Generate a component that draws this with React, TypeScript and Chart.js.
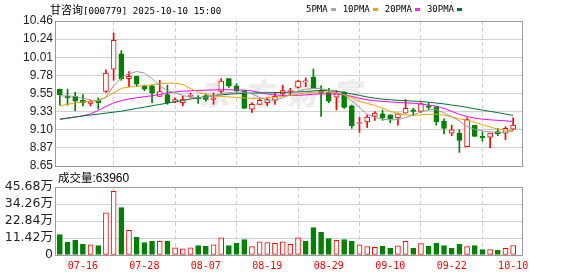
import React, { useEffect, useRef } from 'react';
import { Chart, registerables } from 'chart.js';

Chart.register(...registerables);

// ---------- data ----------
const stockName = '甘咨询';
const stockCode = '[000779]';
const quoteTime = '2025-10-10 15:00';
const volumeLabel = '成交量';
const lastVolume = 63960;
const watermark = '东方财富';

const dates = [
  '07-11', '07-14', '07-15', '07-16', '07-17', '07-18', '07-21', '07-22', '07-23', '07-24',
  '07-25', '07-28', '07-29', '07-30', '07-31', '08-01', '08-04', '08-05', '08-06', '08-07',
  '08-08', '08-11', '08-12', '08-13', '08-14', '08-15', '08-18', '08-19', '08-20', '08-21',
  '08-22', '08-25', '08-26', '08-27', '08-28', '08-29', '09-01', '09-02', '09-03', '09-04',
  '09-05', '09-08', '09-09', '09-10', '09-11', '09-12', '09-15', '09-16', '09-17', '09-18',
  '09-19', '09-22', '09-23', '09-24', '09-25', '09-26', '09-29', '09-30', '10-09', '10-10',
];

const openP = [
  9.61, 9.52, 9.52, 9.47, 9.43, 9.47, 9.58, 9.86, 10.05, 9.74,
  9.77, 9.65, 9.65, 9.52, 9.54, 9.45, 9.44, 9.52, 9.51, 9.53,
  9.48, 9.58, 9.74, 9.65, 9.59, 9.36, 9.42, 9.44, 9.47, 9.55,
  9.58, 9.63, 9.70, 9.76, 9.59, 9.57, 9.51, 9.57, 9.40, 9.18,
  9.20, 9.27, 9.30, 9.29, 9.25, 9.31, 9.35, 9.33, 9.40, 9.39,
  9.21, 9.06, 9.06, 8.89, 9.16, 9.02, 9.01, 9.08, 9.06, 9.11,
];
const highP = [
  9.61, 9.61, 9.57, 9.54, 9.47, 9.50, 9.85, 10.31, 10.09, 9.83,
  9.77, 9.66, 9.66, 9.72, 9.66, 9.50, 9.52, 9.56, 9.53, 9.55,
  9.56, 9.74, 9.74, 9.68, 9.59, 9.44, 9.50, 9.50, 9.56, 9.66,
  9.62, 9.72, 9.75, 9.86, 9.65, 9.62, 9.59, 9.58, 9.41, 9.26,
  9.29, 9.33, 9.35, 9.29, 9.31, 9.48, 9.37, 9.44, 9.44, 9.39,
  9.24, 9.16, 9.10, 9.25, 9.16, 9.08, 9.06, 9.12, 9.14, 9.25,
];
const lowP = [
  9.41, 9.41, 9.34, 9.40, 9.40, 9.36, 9.57, 9.72, 9.72, 9.64,
  9.64, 9.59, 9.44, 9.52, 9.42, 9.44, 9.40, 9.50, 9.43, 9.46,
  9.42, 9.56, 9.63, 9.57, 9.37, 9.32, 9.42, 9.40, 9.42, 9.53,
  9.53, 9.62, 9.64, 9.62, 9.27, 9.44, 9.35, 9.37, 9.12, 9.07,
  9.13, 9.22, 9.22, 9.19, 9.16, 9.31, 9.28, 9.32, 9.35, 9.16,
  9.05, 9.03, 8.82, 8.89, 9.02, 8.96, 8.88, 9.03, 8.98, 9.10,
];
const closeP = [
  9.54, 9.50, 9.46, 9.44, 9.45, 9.44, 9.81, 10.22, 9.74, 9.77,
  9.67, 9.61, 9.56, 9.58, 9.44, 9.48, 9.48, 9.53, 9.49, 9.48,
  9.50, 9.71, 9.65, 9.59, 9.37, 9.42, 9.47, 9.48, 9.52, 9.59,
  9.59, 9.71, 9.70, 9.62, 9.56, 9.46, 9.56, 9.38, 9.15, 9.19,
  9.26, 9.31, 9.25, 9.24, 9.30, 9.37, 9.33, 9.43, 9.38, 9.20,
  9.12, 9.10, 8.97, 9.23, 9.02, 9.00, 9.06, 9.05, 9.12, 9.16,
];
const volume = [
  138000, 86000, 98000, 71000, 69000, 64000, 283000, 427000, 318000, 165000,
  118000, 84000, 91000, 91000, 91000, 49000, 42000, 49000, 64000, 58000,
  69000, 116000, 64000, 78000, 104000, 56000, 89000, 84000, 78000, 89000,
  71000, 116000, 93000, 185000, 153000, 111000, 98000, 104000, 91000, 69000,
  56000, 51000, 58000, 44000, 62000, 91000, 44000, 76000, 58000, 78000,
  64000, 44000, 71000, 56000, 64000, 37000, 37000, 31000, 44000, 63960,
];
const ma5 = [
  9.525, 9.525, 9.518, 9.494, 9.475, 9.459, 9.512, 9.649, 9.749, 9.805,
  9.829, 9.811, 9.742, 9.649, 9.593, 9.562, 9.531, 9.510, 9.500, 9.510,
  9.525, 9.550, 9.566, 9.574, 9.568, 9.550, 9.506, 9.469, 9.475, 9.500,
  9.550, 9.587, 9.606, 9.618, 9.618, 9.593, 9.568, 9.537, 9.463, 9.382,
  9.295, 9.257, 9.232, 9.226, 9.229, 9.254, 9.288, 9.326, 9.353, 9.357,
  9.313, 9.263, 9.214, 9.142, 9.108, 9.089, 9.074, 9.071, 9.074, 9.081,
];
const ma10 = [
  9.400, 9.419, 9.438, 9.450, 9.456, 9.471, 9.506, 9.562, 9.620, 9.634,
  9.643, 9.652, 9.664, 9.676, 9.683, 9.684, 9.668, 9.618, 9.574, 9.543,
  9.525, 9.518, 9.512, 9.506, 9.500, 9.494, 9.494, 9.500, 9.510, 9.518,
  9.531, 9.546, 9.562, 9.571, 9.574, 9.574, 9.562, 9.543, 9.500, 9.456,
  9.431, 9.406, 9.372, 9.332, 9.307, 9.288, 9.282, 9.288, 9.295, 9.297,
  9.285, 9.263, 9.239, 9.222, 9.195, 9.166, 9.137, 9.110, 9.098, 9.093,
];
const ma20 = [
  9.236, 9.249, 9.261, 9.276, 9.301, 9.344, 9.394, 9.438, 9.465, 9.487,
  9.502, 9.515, 9.527, 9.543, 9.562, 9.574, 9.584, 9.589, 9.593, 9.597,
  9.599, 9.602, 9.602, 9.599, 9.596, 9.587, 9.568, 9.550, 9.537, 9.531,
  9.531, 9.533, 9.537, 9.546, 9.550, 9.550, 9.547, 9.540, 9.518, 9.494,
  9.477, 9.465, 9.456, 9.450, 9.444, 9.438, 9.434, 9.423, 9.410, 9.397,
  9.369, 9.332, 9.295, 9.267, 9.247, 9.235, 9.226, 9.220, 9.214, 9.205,
];
const ma30 = [
  9.232, 9.246, 9.261, 9.275, 9.286, 9.298, 9.310, 9.322, 9.334, 9.351,
  9.368, 9.384, 9.402, 9.418, 9.435, 9.451, 9.469, 9.485, 9.502, 9.515,
  9.527, 9.538, 9.546, 9.552, 9.557, 9.560, 9.562, 9.564, 9.567, 9.569,
  9.572, 9.574, 9.579, 9.587, 9.593, 9.593, 9.584, 9.568, 9.550, 9.531,
  9.512, 9.496, 9.485, 9.477, 9.470, 9.465, 9.460, 9.455, 9.446, 9.436,
  9.425, 9.411, 9.398, 9.382, 9.364, 9.347, 9.332, 9.316, 9.298, 9.280,
];

const xTickDates = ['07-16', '07-28', '08-07', '08-19', '08-29', '09-10', '09-22', '10-10'];
const priceTickLabels = ['8.65', '8.87', '9.10', '9.33', '9.55', '9.78', '10.01', '10.24', '10.46'];
const volTickLabels = ['0', '11.42万', '22.84万', '34.26万', '45.68万'];
const volMax = 456800;

const legendItems = [
  { label: '5PMA', color: '#a8a8a8' },
  { label: '10PMA', color: '#f0a30a' },
  { label: '20PMA', color: '#ff22ff' },
  { label: '30PMA', color: '#00703a' },
];

// ---------- styles ----------
const UP = '#ff0000';
const DOWN = '#008000';
const GRID = '#d0d0d0';
const FRAME = '#9a9a9a';
const MA_COLORS = ['#9a9a9a', '#f0a000', '#ff00ff', '#006f36'];
const X_MIN = -0.5;
const X_MAX = 60.15;
const AXIS_W = 56;

const framePlugin = {
  id: 'frame',
  beforeDatasetsDraw(chart: any) {
    const { ctx, chartArea: a } = chart;
    ctx.save();
    ctx.strokeStyle = FRAME;
    ctx.lineWidth = 1;
    const l = Math.round(a.left) - 0.5;
    const t = Math.round(a.top) + 0.5;
    const r = Math.round(a.right) + 0.5;
    const b = Math.round(a.bottom) + 0.5;
    ctx.strokeRect(l, t, r - l, b - t);
    ctx.restore();
  },
};

function xScale(showLabels: boolean, h: number) {
  const tickIdx = xTickDates.map((d) => dates.indexOf(d));
  return {
    type: 'linear',
    min: X_MIN,
    max: X_MAX,
    offset: false,
    afterBuildTicks: (s: any) => {
      s.ticks = tickIdx.map((v) => ({ value: v }));
    },
    afterFit: (s: any) => {
      s.height = h;
    },
    grid: { color: GRID, lineWidth: 1, drawTicks: false },
    border: { display: false, dash: [4, 3] },
    ticks: {
      display: showLabels,
      autoSkip: false,
      maxRotation: 0,
      minRotation: 0,
      padding: 5,
      color: '#ff0000',
      font: { family: "'DejaVu Sans Mono', monospace", size: 10 },
      callback: (v: any) => dates[v] ?? '',
    },
  };
}

export default function App() {
  const priceRef = useRef<HTMLCanvasElement>(null);
  const volRef = useRef<HTMLCanvasElement>(null);

  useEffect(() => {
    const candleUp = dates.map((_, i) => closeP[i] >= openP[i]);
    const volUp = dates.map((_, i) =>
      i === 0 ? closeP[i] >= openP[i] : closeP[i] >= closeP[i - 1]
    );
    const pMin = parseFloat(priceTickLabels[0]);
    const pMax = parseFloat(priceTickLabels[priceTickLabels.length - 1]);
    const pStep = (pMax - pMin) / (priceTickLabels.length - 1);
    const priceTickValues = priceTickLabels.map((_, k) => pMin + k * pStep);
    const vStep = volMax / (volTickLabels.length - 1);
    const volTickValues = volTickLabels.map((_, k) => k * vStep);

    const lineDs = (label: string, data: number[], color: string, order: number) => ({
      type: 'line',
      label,
      data: data.map((v, i) => ({ x: i, y: v })),
      borderColor: color,
      borderWidth: 1,
      pointRadius: 0,
      tension: 0,
      fill: false,
      order,
    });

    const priceChart = new Chart(priceRef.current as HTMLCanvasElement, {
      type: 'bar',
      data: {
        datasets: [
          lineDs('5PMA', ma5, MA_COLORS[0], -5),
          lineDs('10PMA', ma10, MA_COLORS[1], -4),
          lineDs('30PMA', ma30, MA_COLORS[3], -3),
          lineDs('20PMA', ma20, MA_COLORS[2], -2),
          {
            type: 'bar',
            label: 'body',
            data: dates.map((_, i) => ({ x: i, y: [openP[i], closeP[i]] })),
            backgroundColor: candleUp.map((u) => (u ? '#ffffff' : DOWN)),
            borderColor: candleUp.map((u) => (u ? UP : DOWN)),
            borderWidth: 1,
            borderSkipped: false,
            barThickness: 5,
            minBarLength: 1,
            grouped: false,
            order: 0,
          },
          {
            type: 'bar',
            label: 'wick',
            data: dates.map((_, i) => ({ x: i, y: [lowP[i], highP[i]] })),
            backgroundColor: candleUp.map((u) => (u ? UP : DOWN)),
            borderWidth: 0,
            barThickness: 1,
            grouped: false,
            order: 1,
          },
        ] as any,
      },
      options: {
        responsive: false,
        maintainAspectRatio: false,
        animation: false,
        events: [],
        layout: { padding: { left: 0, right: 578 - 522, top: 21, bottom: 276 - 166 } },
        plugins: { legend: { display: false }, tooltip: { enabled: false } },
        scales: {
          x: xScale(false, 0) as any,
          y: {
            type: 'linear',
            position: 'left',
            min: pMin,
            max: pMax,
            afterBuildTicks: (s: any) => {
              s.ticks = priceTickValues.map((v) => ({ value: v }));
            },
            afterFit: (s: any) => {
              s.width = AXIS_W;
            },
            grid: { color: GRID, lineWidth: 1, drawTicks: false },
            border: { display: false },
            ticks: {
              autoSkip: false,
              padding: 3,
              color: '#222',
              font: { family: "'Liberation Sans', Arial, sans-serif", size: 12 },
              callback: (_v: any, i: number) => priceTickLabels[i],
            },
          },
        },
      },
      plugins: [framePlugin],
    } as any);

    const volChart = new Chart(volRef.current as HTMLCanvasElement, {
      type: 'bar',
      data: {
        datasets: [
          {
            label: 'volume',
            data: volume.map((v, i) => ({ x: i, y: v })),
            backgroundColor: volUp.map((u) => (u ? '#ffffff' : DOWN)),
            borderColor: volUp.map((u) => (u ? UP : DOWN)),
            borderWidth: 1,
            borderSkipped: false,
            barThickness: 5,
            grouped: false,
          },
        ] as any,
      },
      options: {
        responsive: false,
        maintainAspectRatio: false,
        animation: false,
        events: [],
        layout: { padding: { left: 0, right: 578 - 522, top: 187, bottom: 0 } },
        plugins: { legend: { display: false }, tooltip: { enabled: false } },
        scales: {
          x: xScale(true, 276 - 255) as any,
          y: {
            type: 'linear',
            position: 'left',
            min: 0,
            max: volMax,
            afterBuildTicks: (s: any) => {
              s.ticks = volTickValues.map((v) => ({ value: v }));
            },
            afterFit: (s: any) => {
              s.width = AXIS_W;
            },
            grid: { color: GRID, lineWidth: 1, drawTicks: false },
            border: { display: false },
            ticks: {
              autoSkip: false,
              padding: 3,
              color: '#222',
              font: { family: "'DejaVu Sans', 'Noto Sans CJK SC', sans-serif", size: 12.5 },
              callback: (_v: any, i: number) => volTickLabels[i],
            },
          },
        },
      },
      plugins: [framePlugin],
    } as any);

    return () => {
      priceChart.destroy();
      volChart.destroy();
    };
  }, []);

  const mono = "'DejaVu Sans Mono', monospace";
  const cjk = "'Noto Sans CJK SC', sans-serif";

  return (
    <div
      style={{
        position: 'absolute',
        left: 0,
        top: 0,
        width: 578,
        height: 276,
        background: '#ffffff',
        overflow: 'hidden',
      }}
    >
      <div
        style={{
          position: 'absolute',
          left: 197,
          top: 70,
          width: 180,
          textAlign: 'center',
          fontFamily: cjk,
          fontWeight: 900,
          fontStyle: 'italic',
          fontSize: 30,
          letterSpacing: 14,
          color: '#ececec',
          whiteSpace: 'nowrap',
        }}
      >
        {watermark}
      </div>
      <canvas ref={priceRef} width={578} height={276} style={{ position: 'absolute', left: 0, top: 0 }} />
      <canvas ref={volRef} width={578} height={276} style={{ position: 'absolute', left: 0, top: 0 }} />
      <div
        style={{
          position: 'absolute',
          left: 50,
          top: 1,
          height: 16,
          lineHeight: '16px',
          whiteSpace: 'nowrap',
          color: '#000',
        }}
      >
        <span style={{ fontFamily: cjk, fontSize: 11 }}>{stockName}</span>
        <span style={{ fontFamily: mono, fontSize: 9.2 }}>
          {stockCode} {quoteTime}
        </span>
      </div>
      <div
        style={{
          position: 'absolute',
          left: 306,
          top: 1,
          height: 16,
          display: 'flex',
          alignItems: 'center',
          whiteSpace: 'nowrap',
          fontFamily: mono,
          fontSize: 9,
          color: '#000',
        }}
      >
        {legendItems.map((it) => (
          <span key={it.label} style={{ display: 'flex', alignItems: 'center', marginRight: 7 }}>
            <span>{it.label}</span>
            <span style={{ display: 'inline-block', width: 5, height: 3, background: it.color, marginLeft: 3 }} />
          </span>
        ))}
      </div>
      <div
        style={{
          position: 'absolute',
          left: 58,
          top: 169,
          height: 16,
          lineHeight: '16px',
          whiteSpace: 'nowrap',
          color: '#000',
        }}
      >
        <span style={{ fontFamily: cjk, fontSize: 11.5 }}>{volumeLabel}</span>
        <span style={{ fontFamily: "'Liberation Sans', sans-serif", fontSize: 12 }}>:{lastVolume}</span>
      </div>
    </div>
  );
}
